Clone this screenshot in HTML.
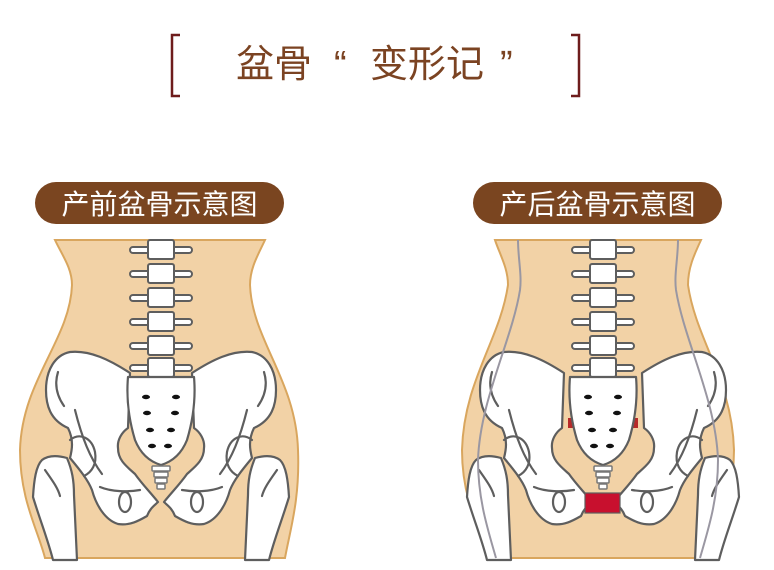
<!DOCTYPE html>
<html><head><meta charset="utf-8"><style>
html,body{margin:0;padding:0;background:#fff;width:774px;height:570px;overflow:hidden}
svg{display:block}
</style></head><body>
<svg width="774" height="570" viewBox="0 0 774 570" xmlns="http://www.w3.org/2000/svg">
<defs>
  <g id="half" stroke="#5e5e5e" stroke-width="2.2" fill="#fff" stroke-linejoin="round" stroke-linecap="round">
    <path d="M33 497 C34 480 36 466 42 460 C50 454 60 456 67 458 C72 470 74 480 74 495 L77 560 L53 560 C48 540 40 520 33 497 Z"/>
    <path d="M130 373 C110 360 90 350 70 352 C55 355 46 370 46 390 C46 405 50 420 68 428 C74 440 72 450 70 458 C80 470 88 480 92 490 C96 505 105 520 118 524 C130 526 140 520 147 516 C150 508 155 505 158 502 C150 492 142 484 135 474 C126 466 118 460 118 448 C117 440 122 432 128 428 Z"/>
    <path d="M70 440 C80 432 92 438 95 452 C97 464 92 472 84 476" fill="none"/>
    <path d="M58 372 C54 385 57 396 64 406" fill="none"/>
    <path d="M75 410 C82 438 90 458 102 474" fill="none"/>
    <path d="M45 470 C52 480 58 488 60 496" fill="none"/>
    <ellipse cx="125" cy="502" rx="6" ry="10" fill="none"/>
    <path d="M100 487 C112 492 128 492 140 490" fill="none"/>
  </g>
  <g id="sacrum" stroke="#5e5e5e" stroke-width="2.2" stroke-linejoin="round">
    <path d="M-33 377 L33 377 C35 400 32 420 26 440 C20 455 10 462 0 465 C-10 462 -20 455 -26 440 C-32 420 -35 400 -33 377 Z" fill="#fff"/>
    <g fill="#111" stroke="none">
      <ellipse cx="-15" cy="397" rx="4" ry="2.2"/><ellipse cx="15" cy="397" rx="4" ry="2.2"/>
      <ellipse cx="-14" cy="413" rx="4" ry="2.2"/><ellipse cx="14" cy="413" rx="4" ry="2.2"/>
      <ellipse cx="-11" cy="430" rx="4" ry="2.2"/><ellipse cx="10" cy="430" rx="4" ry="2.2"/>
      <ellipse cx="-9" cy="446" rx="4" ry="2.2"/><ellipse cx="7" cy="446" rx="4" ry="2.2"/>
    </g>
    <g fill="#fff" stroke="#777" stroke-width="1.5">
      <rect x="-9" y="466" width="18" height="5" rx="1"/>
      <rect x="-7" y="472" width="14" height="5" rx="1"/>
      <rect x="-6" y="478" width="12" height="5" rx="1"/>
      <rect x="-4" y="484" width="8" height="5" rx="1"/>
    </g>
  </g>
  <g id="vert" stroke="#5e5e5e" stroke-width="2" fill="#fff">
    <rect x="-31" y="7" width="62" height="6" rx="3"/>
    <rect x="-13" y="0" width="26" height="19" rx="2"/>
  </g>
  <path id="bodyR" d="M495 240 L701 240 C694 255 688 268 688 285 C696 340 732 380 734 450 C734 500 716 530 706 558 L490 558 C480 530 462 500 462 450 C464 380 500 340 508 285 C508 268 500 255 495 240 Z"/>
</defs>

<!-- Title -->
<g fill="none" stroke="#6e1c1c" stroke-width="2.5">
  <path d="M180 35 L172 35 L172 96 L180 96"/>
  <path d="M571 35 L579 35 L579 96 L571 96"/>
</g>
<g font-family="'Liberation Sans','Noto Sans CJK SC',sans-serif" font-size="38" fill="#7b4322">
  <text x="236" y="77">盆骨</text>
  <text x="334" y="77">“</text>
  <text x="370" y="77">变形记</text>
  <text x="500" y="77">”</text>
</g>

<!-- Labels -->
<rect x="35" y="182" width="249" height="42" rx="21" fill="#7a4520"/>
<text x="159.5" y="214" text-anchor="middle" font-family="'Liberation Sans','Noto Sans CJK SC',sans-serif" font-size="28" fill="#fff">产前盆骨示意图</text>
<rect x="473" y="182" width="249" height="42" rx="21" fill="#7a4520"/>
<text x="597.5" y="214" text-anchor="middle" font-family="'Liberation Sans','Noto Sans CJK SC',sans-serif" font-size="28" fill="#fff">产后盆骨示意图</text>

<!-- Left body -->
<path d="M55 240 L265 240 C258 255 250 268 250 285 C252 340 296 380 298 450 C300 500 290 530 285 558 L45 558 C38 530 20 500 20 450 C22 380 70 340 72 285 C72 268 62 255 55 240 Z" fill="#f2d2a6" stroke="#d9a65e" stroke-width="2"/>
<g transform="translate(161,240)">
  <use href="#vert" y="0"/><use href="#vert" y="24"/><use href="#vert" y="48"/><use href="#vert" y="72"/><use href="#vert" y="96"/><use href="#vert" y="118"/>
</g>
<use href="#half"/>
<use href="#half" transform="translate(322,0) scale(-1,1)"/>
<use href="#sacrum" transform="translate(161,0)"/>

<!-- Right body -->
<use href="#bodyR" fill="#f2d2a6" stroke="#d9a65e" stroke-width="2"/>
<g transform="translate(603,240)">
  <use href="#vert" y="0"/><use href="#vert" y="24"/><use href="#vert" y="48"/><use href="#vert" y="72"/><use href="#vert" y="96"/><use href="#vert" y="118"/>
</g>
<rect x="568" y="418" width="8" height="10" fill="#b72a2a"/>
<rect x="630" y="418" width="8" height="10" fill="#b72a2a"/>
<use href="#half" transform="translate(434,0)"/>
<use href="#half" transform="translate(772,0) scale(-1,1)"/>
<use href="#sacrum" transform="translate(603,0)"/>
<rect x="585" y="493" width="35" height="20" fill="#c8102e" stroke="#5e5e5e" stroke-width="1.2"/>
<g fill="none" stroke="#9a97a2" stroke-width="2">
  <path d="M518 240 C518 258 522 275 520 290 C512 340 480 400 478 460 C478 500 488 530 496 558"/>
  <path d="M678 240 C678 258 674 275 676 290 C684 340 716 400 718 460 C718 500 708 530 700 558"/>
</g>
</svg>
</body></html>
